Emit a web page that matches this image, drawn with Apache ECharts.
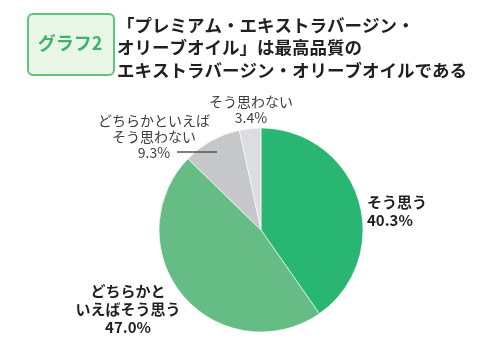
<!DOCTYPE html>
<html>
<head>
<meta charset="utf-8">
<script src="https://cdn.jsdelivr.net/npm/echarts@6/dist/echarts.min.js"></script>
<style>
  html, body { margin: 0; padding: 0; background: #fff; }
  #chart { width: 500px; height: 347px; }
</style>
</head>
<body>
<div id="chart"></div>
<script>
// Survey answers, clockwise from 12 o'clock
const categories = ['そう思う', 'どちらかと\nいえばそう思う', 'どちらかといえば\nそう思わない', 'そう思わない'];
const shares = [40.3, 47.0, 9.3, 3.4];
const sliceColors = ['#29b572', '#65bd85', '#c6c7c9', '#dcdddf'];
const badgeText = 'グラフ2';
const headingLines = [
  '「プレミアム・エキストラバージン・',
  'オリーブオイル」は最高品質の',
  'エキストラバージン・オリーブオイルである'
];

const FONT = '"Noto Sans CJK JP", "Noto Sans", sans-serif';

// label anchor per slice (x, y, align)
const labelSpots = [
  { x: 367, y: 211, align: 'left' },
  { x: 128, y: 309, align: 'center' },
  { x: 154, y: 137, align: 'center' },
  { x: 251, y: 110, align: 'center' }
];

const strong = { fontSize: 15, fontWeight: 'bold', color: '#231f20', lineHeight: 18 };
const light = { fontSize: 14, fontWeight: 'normal', color: '#3c3c3c', lineHeight: 16 };

const pieGeom = { center: [261, 230], radius: 102, startAngle: 90, clockwise: true };

const chart = echarts.init(document.getElementById('chart'), null, { renderer: 'canvas' });

chart.setOption({
  animation: false,
  backgroundColor: '#ffffff',
  title: {
    text: headingLines.join('\n'),
    left: 117,
    top: 14,
    padding: 0,
    textStyle: {
      fontFamily: FONT,
      fontSize: 17.5,
      fontWeight: 'bold',
      color: '#231f20',
      lineHeight: 22.5
    }
  },
  graphic: [
    {
      type: 'rect',
      left: 27,
      top: 13,
      shape: { width: 86, height: 61, r: 5 },
      style: { fill: '#e9f6e6', stroke: '#5ec47d', lineWidth: 2 }
    },
    {
      type: 'text',
      x: 70,
      y: 43,
      style: {
        text: badgeText,
        fontFamily: FONT,
        fontSize: 18,
        fontWeight: 'bold',
        fill: '#3cb56b',
        align: 'center',
        verticalAlign: 'middle'
      }
    }
  ],
  series: [
    // the coloured slices
    Object.assign({
      type: 'pie',
      z: 2,
      silent: true,
      itemStyle: { borderColor: '#ffffff', borderWidth: 0.6 },
      label: { show: false },
      labelLine: { show: false },
      data: shares.map((v, i) => ({
        name: categories[i],
        value: v,
        itemStyle: { color: sliceColors[i] }
      }))
    }, pieGeom),
    // labels and the leader line, layered above the slices
    Object.assign({
      type: 'pie',
      z: 3,
      silent: true,
      avoidLabelOverlap: false,
      itemStyle: { color: 'rgba(0,0,0,0)', borderWidth: 0 },
      label: {
        show: true,
        position: 'outside',
        fontFamily: FONT,
        formatter: p => p.name + '\n' + p.value.toFixed(1) + '%'
      },
      labelLine: { show: false },
      labelLayout: function (params) {
        const s = labelSpots[params.dataIndex];
        const out = { x: s.x, y: s.y, align: s.align, verticalAlign: 'middle' };
        if (params.dataIndex === 2) {
          out.labelLinePoints = [[s.x + 23, s.y + 15], [s.x + 43, s.y + 15], [s.x + 63, s.y + 15]];
        }
        return out;
      },
      data: shares.map((v, i) => ({
        name: categories[i],
        value: v,
        label: (i < 2) ? strong : light,
        labelLine: i === 2
          ? { show: true, length: 10, length2: 10, lineStyle: { color: '#555', width: 1.5 } }
          : { show: false }
      }))
    }, pieGeom)
  ]
});
</script>
</body>
</html>
